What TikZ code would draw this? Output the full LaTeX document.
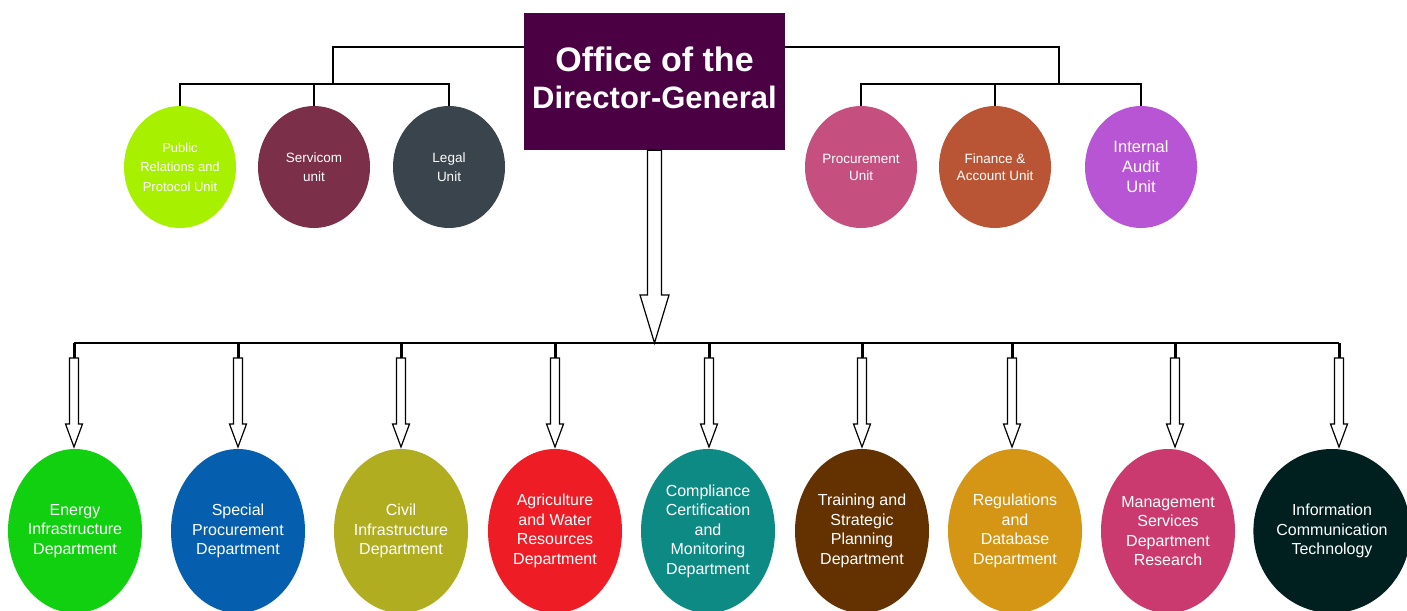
\documentclass[tikz,border=0pt]{standalone}
\usepackage{fontspec}
\setmainfont{Liberation Sans}
\usetikzlibrary{shapes.geometric}
\usetikzlibrary{positioning}
\usetikzlibrary{calc}

% hollow down arrow: top, tip, shaft half width, head half width, head length
\newcommand{\hollowdown}[5]{%
  \draw[style=hollow] let \p1=(#1), \p2=(#2) in
    (\x1-#3,\y1) -- (\x1+#3,\y1) -- (\x1+#3,\y2+#5) -- (\x1+#4,\y2+#5)
    -- (\x1,\y2) -- (\x1-#4,\y2+#5) -- (\x1-#3,\y2+#5) -- cycle;}

\begin{document}
\begin{tikzpicture}[x=1pt,y=-1pt]
\definecolor{dgcolor}{HTML}{4B0044}
\definecolor{unitcolor1}{HTML}{A6F000}
\definecolor{unitcolor2}{HTML}{7B2F48}
\definecolor{unitcolor3}{HTML}{3A444C}
\definecolor{unitcolor4}{HTML}{C55080}
\definecolor{unitcolor5}{HTML}{B95535}
\definecolor{unitcolor6}{HTML}{B855D5}
\definecolor{deptcolor1}{HTML}{10D010}
\definecolor{deptcolor2}{HTML}{055FAE}
\definecolor{deptcolor3}{HTML}{B0AE20}
\definecolor{deptcolor4}{HTML}{EE1C25}
\definecolor{deptcolor5}{HTML}{0E8A84}
\definecolor{deptcolor6}{HTML}{643200}
\definecolor{deptcolor7}{HTML}{D49614}
\definecolor{deptcolor8}{HTML}{CB3A6E}
\definecolor{deptcolor9}{HTML}{002020}
\tikzstyle{conn}=[black, line width=1.8pt]
\tikzstyle{stub}=[black, line width=3pt]
\tikzstyle{hollow}=[draw=black, fill=white, line width=1.2pt, line join=miter]
\tikzstyle{office}=[rectangle, fill=dgcolor, minimum width=261pt, minimum height=137pt, inner sep=0pt]
\tikzstyle{officetext}=[text=white, align=center, inner sep=0pt,
font=\bfseries\fontsize{31}{37}\selectfont]
\tikzstyle{unit}=[ellipse, inner sep=-2pt, minimum width=112pt, minimum height=122pt,
text=white, align=center, font=\fontsize{13.5}{19.5}\selectfont]
\tikzstyle{dept}=[ellipse, inner sep=0pt, minimum width=134pt, minimum height=164pt,
text=white, align=center, font=\fontsize{16}{19.5}\selectfont]

\useasboundingbox (0,0) rectangle (1407,610);

\node[office] (Odg) at (654.5,81.5) {};
\node[officetext] (Odgtext) at ([yshift=4pt]Odg.center) {{\fontsize{34}{37}\selectfont Office of the}\\Director-General};

\node[unit, fill=unitcolor1, font=\fontsize{13}{19.5}\selectfont] (Upr) at (180,167) {Public\\Relations and\\Protocol Unit};
\node[unit, fill=unitcolor2] (Userv) at (314,167) {Servicom\\unit};
\node[unit, fill=unitcolor3] (Ulegal) at (449,167) {Legal\\Unit};
\node[unit, fill=unitcolor4, font=\fontsize{13.5}{17}\selectfont] (Uproc) at (861,167) {Procurement\\Unit};
\node[unit, fill=unitcolor5, font=\fontsize{13.5}{17}\selectfont] (Ufin) at (995,167) {Finance \&\\Account Unit};
\node[unit, fill=unitcolor6, font=\fontsize{16.5}{20}\selectfont] (Uaudit) at (1141,167) {Internal\\Audit\\Unit};

% top connectors
\coordinate (jl) at (333,84);
\coordinate (jr) at (1059,84);
\draw[style=conn] ([yshift=-34pt]Odg.north west) -| (jl);
\draw[style=conn] ([yshift=-34pt]Odg.north east) -| (jr);
\draw[style=conn] (Upr.north) |- (jl) -| (Ulegal.north);
\draw[style=conn] (Userv.north) -- (Userv.north |- jl);
\draw[style=conn] (Uproc.north) |- (jr) -| (Uaudit.north);
\draw[style=conn] (Ufin.north) -- (Ufin.north |- jr);

% departments
\node[dept, fill=deptcolor1] (D1) at (75,531) {Energy\\Infrastructure\\Department};
\node[dept, fill=deptcolor2] (D2) at (238,531) {Special\\Procurement\\Department};
\node[dept, fill=deptcolor3] (D3) at (401,531) {Civil\\Infrastructure\\Department};
\node[dept, fill=deptcolor4] (D4) at (555,531) {Agriculture\\and Water\\Resources\\Department};
\node[dept, fill=deptcolor5] (D5) at (708,531) {Compliance\\Certification\\and\\Monitoring\\Department};
\node[dept, fill=deptcolor6] (D6) at (862,531) {Training and\\Strategic\\Planning\\Department};
\node[dept, fill=deptcolor7] (D7) at (1015,531) {Regulations\\and\\Database\\Department};
\node[dept, fill=deptcolor8] (D8) at (1168,531) {Management\\Services\\Department\\Research};
\node[dept, fill=deptcolor9] (D9) at (1332,531) {Information\\Communication\\Technology};

% bus and arrows
\coordinate (busmid) at (654,343);
\foreach \x/\k in {74/1,238/2,401/3,555/4,709/5,862/6,1012/7,1175/8,1339/9} {
  \coordinate (tap\k) at (\x,343);
  \coordinate (stub\k) at (\x,358);
  \coordinate (tip\k) at (\x,447);
}
\draw[style=conn] (tap1) -- (tap9);
\hollowdown{Odg.south}{busmid}{7pt}{14.5pt}{48pt}
\foreach \k in {1,...,9} {
  \draw[style=stub] (tap\k) -- (stub\k);
  \hollowdown{stub\k}{tip\k}{4.5pt}{8.5pt}{23pt}
}

\end{tikzpicture}
\end{document}
